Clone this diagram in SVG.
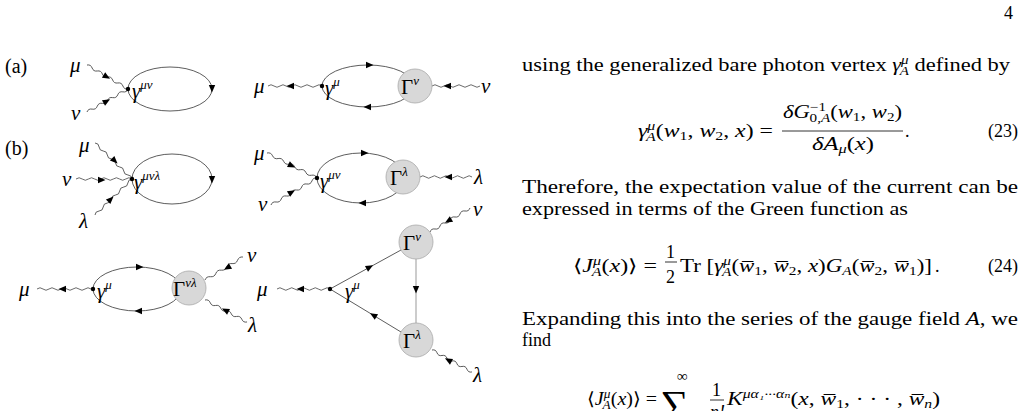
<svg xmlns="http://www.w3.org/2000/svg" width="1026" height="411" viewBox="0 0 1026 411">
<style>
.t{font-family:"Liberation Serif","DejaVu Serif",serif;font-size:18px;fill:#000}
.g{font-family:"Liberation Serif","DejaVu Serif",serif;font-style:italic;font-size:21px;fill:#000}
.G{font-family:"Liberation Serif","DejaVu Serif",serif;font-size:21px;fill:#000}
.s{font-size:12px}
.g .s,.G .s{font-size:13px}
.w{fill:none;stroke:#444;stroke-width:0.8}
.f{fill:none;stroke:#333;stroke-width:0.8}
.c{fill:#d8d8d8;stroke:#aaa;stroke-width:0.8}
.i{font-style:italic}
</style>
<defs><path id="ar" d="M-4 -3.2L3.5 0L-4 3.2Z" fill="#000"/></defs>
<text class="t" x="1004" y="19">4</text>
<text class="t" x="5" y="73" style="font-size:20px">(a)</text>
<text class="t" x="5" y="155" style="font-size:20px">(b)</text>

<g id="connectors">
<path class="w" transform="translate(87,65) rotate(30.3)" d="M0 0q2.97 -2.5 5.94 0t5.94 0t5.94 0t5.94 0t5.94 0t5.94 0t5.94 0t5.94 0"/>
<path class="w" transform="translate(87,112) rotate(-29.3)" d="M0 0q2.94 -2.5 5.88 0t5.88 0t5.88 0t5.88 0t5.88 0t5.88 0t5.88 0t5.88 0"/>
<ellipse class="f" cx="170" cy="89" rx="42" ry="22"/>
<use href="#ar" transform="translate(107,77) rotate(30.3)"/>
<use href="#ar" transform="translate(107,101) rotate(-29.3)"/>
<use href="#ar" transform="translate(212,89) rotate(90)"/>
<path class="w" transform="translate(268,86)" d="M0 0q3 -2.5 6 0t6 0t6 0t6 0t6 0t6 0t6 0t6 0t6 0"/>
<path class="w" transform="translate(432,86)" d="M0 0q3 -2.5 6 0t6 0t6 0t6 0t6 0t6 0t6 0t6 0"/>
<ellipse class="f" cx="368" cy="86" rx="46" ry="21"/>
<use href="#ar" transform="translate(290,86) rotate(180)"/>
<use href="#ar" transform="translate(447,86) rotate(180)"/>
<use href="#ar" transform="translate(370,65)"/>
<use href="#ar" transform="translate(367,107) rotate(180)"/>
<path class="w" transform="translate(95,143) rotate(44.2)" d="M0 0q2.87 -2.5 5.73 0t5.73 0t5.73 0t5.73 0t5.73 0t5.73 0t5.73 0t5.73 0t5.73 0"/>
<path class="w" transform="translate(76,179)" d="M0 0q3.11 -2.5 6.22 0t6.22 0t6.22 0t6.22 0t6.22 0t6.22 0t6.22 0t6.22 0t6.22 0"/>
<path class="w" transform="translate(95,215) rotate(-44.2)" d="M0 0q2.87 -2.5 5.73 0t5.73 0t5.73 0t5.73 0t5.73 0t5.73 0t5.73 0t5.73 0t5.73 0"/>
<ellipse class="f" cx="172" cy="179" rx="40" ry="25"/>
<use href="#ar" transform="translate(115,161) rotate(44.2)"/>
<use href="#ar" transform="translate(102,180)"/>
<use href="#ar" transform="translate(111,199) rotate(-44.2)"/>
<use href="#ar" transform="translate(212,180) rotate(90)"/>
<path class="w" transform="translate(267,153) rotate(26.6)" d="M0 0q3.1 -2.5 6.21 0t6.21 0t6.21 0t6.21 0t6.21 0t6.21 0t6.21 0t6.21 0t6.21 0"/>
<path class="w" transform="translate(271,205) rotate(-30.4)" d="M0 0q2.96 -2.5 5.93 0t5.93 0t5.93 0t5.93 0t5.93 0t5.93 0t5.93 0t5.93 0t5.93 0"/>
<path class="w" transform="translate(420,177)" d="M0 0q2.89 -2.5 5.78 0t5.78 0t5.78 0t5.78 0t5.78 0t5.78 0t5.78 0t5.78 0t5.78 0"/>
<ellipse class="f" cx="361" cy="178" rx="44" ry="25"/>
<use href="#ar" transform="translate(292,166) rotate(26.6)"/>
<use href="#ar" transform="translate(292,192) rotate(-30.4)"/>
<use href="#ar" transform="translate(448,177) rotate(180)"/>
<use href="#ar" transform="translate(365,153)"/>
<use href="#ar" transform="translate(362,203) rotate(180)"/>
<path class="w" transform="translate(37,289)" d="M0 0q3 -2.5 6 0t6 0t6 0t6 0t6 0t6 0t6 0t6 0t6 0"/>
<path class="w" transform="translate(205,280) rotate(-31.2)" d="M0 0q3.17 -2.5 6.34 0t6.34 0t6.34 0t6.34 0t6.34 0t6.34 0t6.34 0"/>
<path class="w" transform="translate(205,300) rotate(27.6)" d="M0 0q2.96 -2.5 5.93 0t5.93 0t5.93 0t5.93 0t5.93 0t5.93 0t5.93 0t5.93 0"/>
<ellipse class="f" cx="137" cy="289" rx="44" ry="22"/>
<use href="#ar" transform="translate(62,289) rotate(180)"/>
<use href="#ar" transform="translate(227,268) rotate(148.8)"/>
<use href="#ar" transform="translate(225,310) rotate(207.6)"/>
<use href="#ar" transform="translate(140,267)"/>
<use href="#ar" transform="translate(138,311) rotate(180)"/>
<path class="w" transform="translate(277,289)" d="M0 0q2.94 -2.5 5.89 0t5.89 0t5.89 0t5.89 0t5.89 0t5.89 0t5.89 0t5.89 0t5.89 0"/>
<path class="w" transform="translate(430,232) rotate(-31)" d="M0 0q2.91 -2.5 5.83 0t5.83 0t5.83 0t5.83 0t5.83 0t5.83 0t5.83 0t5.83 0"/>
<path class="w" transform="translate(432,350) rotate(28.8)" d="M0 0q2.85 -2.5 5.7 0t5.7 0t5.7 0t5.7 0t5.7 0t5.7 0t5.7 0t5.7 0"/>
<path class="f" d="M330 289L401 250M330 289L401 332"/>
<path d="M416 259V323" stroke="#aaa" stroke-width="1.2"/>
<use href="#ar" transform="translate(300,289) rotate(180)"/>
<use href="#ar" transform="translate(448,221) rotate(149)"/>
<use href="#ar" transform="translate(448,360) rotate(208.8)"/>
<use href="#ar" transform="translate(370,267) rotate(-28.8)"/>
<use href="#ar" transform="translate(373,315) rotate(211.2)"/>
<use href="#ar" transform="translate(416,290) rotate(90)"/>
</g>

<g id="a1">
<circle cx="128" cy="89" r="2.2"/>
<text class="g" x="70" y="72">μ</text><text class="g" x="71" y="120">ν</text>
<text class="g" x="132" y="98">γ<tspan class="s" dy="-9">μν</tspan></text>
</g>
<g id="a2">
<circle cx="322" cy="86" r="2.2"/><circle class="c" cx="415" cy="86" r="17"/>
<text class="g" x="254" y="93">μ</text><text class="g" x="481" y="93">ν</text>
<text class="g" x="325" y="95">γ<tspan class="s" dy="-9">μ</tspan></text>
<text class="G" x="401" y="94">Γ<tspan class="s i" dy="-9">ν</tspan></text>
</g>
<g id="b1">
<circle cx="132" cy="179" r="2.2"/>
<text class="g" x="79" y="152">μ</text><text class="g" x="62" y="186">ν</text><text class="g" x="79" y="228">λ</text>
<text class="g" x="134" y="189">γ<tspan class="s" dy="-9">μνλ</tspan></text>
</g>
<g id="b2">
<circle cx="317" cy="178" r="2.2"/><circle class="c" cx="403" cy="177" r="17"/>
<text class="g" x="254" y="160">μ</text><text class="g" x="258" y="211">ν</text><text class="g" x="474" y="184">λ</text>
<text class="g" x="320" y="188">γ<tspan class="s" dy="-9">μν</tspan></text>
<text class="G" x="390" y="185">Γ<tspan class="s i" dy="-9">λ</tspan></text>
</g>
<g id="c1">
<circle cx="93" cy="289" r="2.2"/><circle class="c" cx="189" cy="288" r="17"/>
<text class="g" x="19" y="296">μ</text><text class="g" x="247" y="262">ν</text><text class="g" x="248" y="332">λ</text>
<text class="g" x="97" y="298">γ<tspan class="s" dy="-9">μ</tspan></text>
<text class="G" x="173" y="296">Γ<tspan class="s i" dy="-9">νλ</tspan></text>
</g>
<g id="c2">
<circle cx="330" cy="289" r="2.2"/><circle class="c" cx="416" cy="242" r="17"/><circle class="c" cx="416" cy="340" r="17"/>
<text class="g" x="257" y="296">μ</text><text class="g" x="473" y="216">ν</text><text class="g" x="473" y="382">λ</text>
<text class="g" x="345" y="298">γ<tspan class="s" dy="-9">μ</tspan></text>
<text class="G" x="403" y="250">Γ<tspan class="s i" dy="-9">ν</tspan></text>
<text class="G" x="403" y="348">Γ<tspan class="s i" dy="-9">λ</tspan></text>
</g>

<g id="text">
<text class="t" x="522" y="71" textLength="488" lengthAdjust="spacingAndGlyphs">using the generalized bare photon vertex <tspan class="i">γ</tspan><tspan class="s i" dy="-7">μ</tspan><tspan class="s i" dx="-7" dy="11">A</tspan><tspan dy="-4"> defined by</tspan></text>
<text class="t" x="638" y="137" textLength="135" lengthAdjust="spacingAndGlyphs"><tspan class="i">γ</tspan><tspan class="s i" dy="-7">μ</tspan><tspan class="s i" dx="-7" dy="11">A</tspan><tspan dy="-4">(</tspan><tspan class="i">w</tspan><tspan class="s" dy="3">1</tspan><tspan dy="-3">, </tspan><tspan class="i">w</tspan><tspan class="s" dy="3">2</tspan><tspan dy="-3">, </tspan><tspan class="i">x</tspan>) =</text>
<text class="t" x="783" y="118" textLength="119" lengthAdjust="spacingAndGlyphs"><tspan class="i">δG</tspan><tspan class="s" dy="-7">−1</tspan><tspan class="s" dx="-13" dy="11">0,<tspan class="i">A</tspan></tspan><tspan dy="-4">(</tspan><tspan class="i">w</tspan><tspan class="s" dy="3">1</tspan><tspan dy="-3">, </tspan><tspan class="i">w</tspan><tspan class="s" dy="3">2</tspan><tspan dy="-3">)</tspan></text>
<path d="M782 131H903" stroke="#000" stroke-width="0.8"/>
<text class="t" x="812" y="150" textLength="62" lengthAdjust="spacingAndGlyphs"><tspan class="i">δA</tspan><tspan class="s i" dy="3">μ</tspan><tspan dy="-3">(</tspan><tspan class="i">x</tspan>)</text>
<text class="t" x="905" y="137">.</text>
<text class="t" x="1018" y="137" text-anchor="end">(23)</text>
<text class="t" x="522" y="193" textLength="496" lengthAdjust="spacingAndGlyphs">Therefore, the expectation value of the current can be</text>
<text class="t" x="522" y="215" textLength="386" lengthAdjust="spacingAndGlyphs">expressed in terms of the Green function as</text>
<text class="t" x="573" y="272" textLength="84" lengthAdjust="spacingAndGlyphs">⟨<tspan class="i">J</tspan><tspan class="s i" dy="-7">μ</tspan><tspan class="s i" dx="-7" dy="11">A</tspan><tspan dy="-4">(</tspan><tspan class="i">x</tspan>)⟩ =</text>
<text class="t" x="666" y="258">1</text><path d="M665 262H677" stroke="#000" stroke-width="0.8"/><text class="t" x="666" y="283">2</text>
<text class="t" x="680" y="272" textLength="252" lengthAdjust="spacingAndGlyphs">Tr [<tspan class="i">γ</tspan><tspan class="s i" dy="-7">μ</tspan><tspan class="s i" dx="-7" dy="11">A</tspan><tspan dy="-4">(</tspan><tspan class="i">w̅</tspan><tspan class="s" dy="3">1</tspan><tspan dy="-3">, </tspan><tspan class="i">w̅</tspan><tspan class="s" dy="3">2</tspan><tspan dy="-3">, </tspan><tspan class="i">x</tspan>)<tspan class="i">G</tspan><tspan class="s i" dy="3">A</tspan><tspan dy="-3">(</tspan><tspan class="i">w̅</tspan><tspan class="s" dy="3">2</tspan><tspan dy="-3">, </tspan><tspan class="i">w̅</tspan><tspan class="s" dy="3">1</tspan><tspan dy="-3">)]</tspan></text>
<text class="t" x="935" y="272">.</text>
<text class="t" x="1018" y="272" text-anchor="end">(24)</text>
<text class="t" x="522" y="325" textLength="496" lengthAdjust="spacingAndGlyphs">Expanding this into the series of the gauge field <tspan class="i">A</tspan>, we</text>
<text class="t" x="522" y="346">find</text>
<text class="t" x="587" y="405" textLength="70" lengthAdjust="spacingAndGlyphs">⟨<tspan class="i">J</tspan><tspan class="s i" dy="-7">μ</tspan><tspan class="s i" dx="-7" dy="11">A</tspan><tspan dy="-4">(</tspan><tspan class="i">x</tspan>)⟩ =</text>
<text class="t" x="677" y="381" style="font-size:15px">∞</text>
<text class="t" x="660" y="418" style="font-size:40px">∑</text>
<text class="t" x="712" y="396">1</text><path d="M710 400H724" stroke="#000" stroke-width="0.8"/><text class="t i" x="710" y="418">n!</text>
<text class="t" x="727" y="405" textLength="213" lengthAdjust="spacingAndGlyphs"><tspan class="i">K</tspan><tspan class="s i" dy="-7">μα₁···αₙ</tspan><tspan dy="7">(</tspan><tspan class="i">x</tspan>, <tspan class="i">w̅</tspan><tspan class="s" dy="3">1</tspan><tspan dy="-3">, · · · , </tspan><tspan class="i">w̅</tspan><tspan class="s i" dy="3">n</tspan><tspan dy="-3">)</tspan></text>
</g>
</svg>
